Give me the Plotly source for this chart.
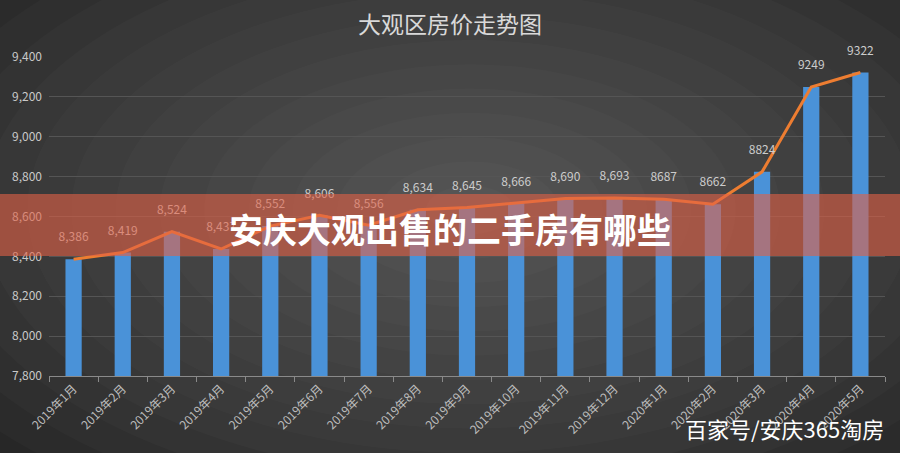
import plotly.graph_objects as go

months = ["2019年1月", "2019年2月", "2019年3月", "2019年4月", "2019年5月", "2019年6月",
          "2019年7月", "2019年8月", "2019年9月", "2019年10月", "2019年11月", "2019年12月",
          "2020年1月", "2020年2月", "2020年3月", "2020年4月", "2020年5月"]
prices = [8386, 8419, 8524, 8437, 8552, 8606, 8556, 8634, 8645, 8666, 8690, 8693,
          8687, 8662, 8824, 9249, 9322]
price_labels = ["8,386", "8,419", "8,524", "8,437", "8,552", "8,606", "8,556", "8,634",
                "8,645", "8,666", "8,690", "8,693", "8687", "8662", "8824", "9249", "9322"]
y_ticks = [7800, 8000, 8200, 8400, 8600, 8800, 9000, 9200, 9400]

title_text = "大观区房价走势图"
banner_text = "安庆大观出售的二手房有哪些"
watermark_text = "百家号/安庆365淘房"

FONT = "Noto Sans CJK SC, Noto Sans, sans-serif"

fig = go.Figure()

fig.add_trace(go.Bar(
    x=months, y=prices, width=0.33,
    marker=dict(color="#4a92d8", line=dict(width=0)),
    hoverinfo="skip", showlegend=False,
))
fig.add_trace(go.Scatter(
    x=months, y=prices, mode="lines",
    line=dict(color="#ed7d31", width=3),
    hoverinfo="skip", showlegend=False,
))
fig.add_trace(go.Scatter(
    x=months, y=prices, mode="markers+text",
    text=price_labels, textposition="top center",
    textfont=dict(size=12, color="#cccccc", family=FONT),
    marker=dict(size=22, opacity=0),
    cliponaxis=False, hoverinfo="skip", showlegend=False,
))

# background vignette: concentric translucent ellipses (figure-wide paper coords)
L, R, T, B = 49, 15, 57, 77
W, H = 900 - L - R, 453 - T - B
def fx(px):
    return (px - L) / W
def fy(py):
    return (453 - B - py) / H

shapes = []
cx, cy = 470, 210
n = 14
for i in range(n):
    f = 1 - i / n
    rx = 620 * f
    ry = 340 * f
    shapes.append(dict(
        type="circle", xref="paper", yref="paper",
        x0=fx(cx - rx), x1=fx(cx + rx), y0=fy(cy + ry), y1=fy(cy - ry),
        fillcolor="rgba(255,255,255,0.02)", line=dict(width=0), layer="below",
    ))

# red banner
shapes.append(dict(
    type="rect", xref="paper", yref="paper",
    x0=fx(0), x1=fx(900), y0=fy(256), y1=fy(194),
    fillcolor="rgba(227,97,70,0.6)", line=dict(width=0), layer="above",
))

annotations = [
    dict(text=title_text, xref="paper", yref="paper", x=fx(450), y=fy(23),
         xanchor="center", yanchor="middle", showarrow=False,
         font=dict(size=23, color="#d9d9d9", family=FONT)),
    dict(text="<b>" + banner_text + "</b>", xref="paper", yref="paper", x=fx(450), y=fy(228),
         xanchor="center", yanchor="middle", showarrow=False,
         font=dict(size=34, color="#ffffff", family=FONT)),
    dict(text=watermark_text, xref="paper", yref="paper", x=fx(886), y=fy(428),
         xanchor="right", yanchor="middle", showarrow=False,
         font=dict(size=22, color="#ffffff", family=FONT)),
]

fig.update_layout(
    width=900, height=453,
    margin=dict(l=L, r=R, t=T, b=B, pad=0, autoexpand=False),
    paper_bgcolor="#272727",
    plot_bgcolor="rgba(0,0,0,0)",
    shapes=shapes,
    annotations=annotations,
    xaxis=dict(
        type="category", tickangle=-45, automargin=False,
        range=[-0.5, len(months) - 0.5],
        tickfont=dict(size=12, color="#bdbdbd", family=FONT),
        showline=True, linecolor="#8a8a8a", linewidth=1,
        ticks="outside", tickson="boundaries", ticklen=5, tickcolor="#8a8a8a",
        showgrid=False, zeroline=False,
    ),
    yaxis=dict(
        range=[7800, 9400], tickvals=y_ticks, tickformat=",", automargin=False,
        tickfont=dict(size=12, color="#c9c9c9", family=FONT),
        showgrid=True, gridcolor="#555555", gridwidth=1,
        showline=False, zeroline=False, ticks="",
        ticklabelstandoff=6,
    ),
    font=dict(family=FONT),
)

fig.write_html("out.html")
